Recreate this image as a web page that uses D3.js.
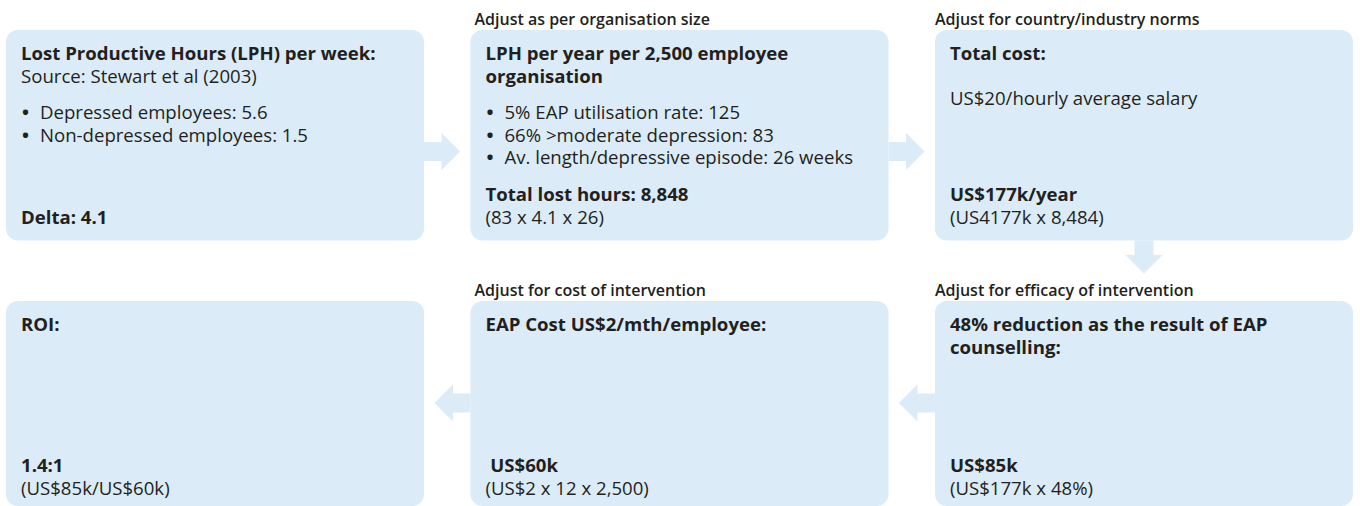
<!DOCTYPE html>
<html>
<head>
<meta charset="utf-8">
<script src="https://cdn.jsdelivr.net/npm/d3@7"></script>
<style>
  html, body { margin: 0; padding: 0; background: #ffffff; }
  svg { display: block; }
  text { white-space: pre; }
</style>
</head>
<body>
<svg id="chart" width="1360" height="506"></svg>
<script>
// ---------------- DATA ----------------
// box order: top row left->right (0,1,2), bottom row left->right (3,4,5)
const boxLabels = [
  "",
  "Adjust as per organisation size",
  "Adjust for country/industry norms",
  "",
  "Adjust for cost of intervention",
  "Adjust for efficacy of intervention"
];
const boxTitles = [
  ["Lost Productive Hours (LPH) per week:"],
  ["LPH per year per 2,500 employee", "organisation"],
  ["Total cost:"],
  ["ROI:"],
  ["EAP Cost US$2/mth/employee:"],
  ["48% reduction as the result of EAP", "counselling:"]
];
const boxSubtitles = [
  ["Source: Stewart et al (2003)"],
  [],
  ["", "US$20/hourly average salary"],
  [],
  [],
  []
];
const boxBullets = [
  ["Depressed employees: 5.6", "Non-depressed employees: 1.5"],
  ["5% EAP utilisation rate: 125", "66% >moderate depression: 83", "Av. length/depressive episode: 26 weeks"],
  [],
  [],
  [],
  []
];
const boxResults = ["Delta: 4.1", "Total lost hours: 8,848", "US$177k/year", "1.4:1", " US$60k", "US$85k"];
const boxFormulas = ["", "(83 x 4.1 x 26)", "(US4177k x 8,484)", "(US$85k/US$60k)", "(US$2 x 12 x 2,500)", "(US$177k x 48%)"];
// flow arrows between boxes (from -> to)
const flowFrom = [0, 1, 2, 5, 4];
const flowTo   = [1, 2, 5, 4, 3];

// ---------------- LAYOUT ----------------
const W = 1360, H = 506;
const fill = "#dbecf8";
const ink = "#231f20";
const font = "'Open Sans', 'Noto Sans', sans-serif";
const bodySize = 18.6, labelSize = 16;

const col = d3.scaleBand().domain([0, 1, 2]).range([6, 1353]).paddingInner(0.1).paddingOuter(0);
const rowTop = [30, 301];
const rowBottom = [240.5, 506];
const arrowCenterOffset = [121.5, 102];

const boxes = boxTitles.map((t, i) => {
  const r = i < 3 ? 0 : 1;
  const c = i < 3 ? i : i - 3;
  return {
    i, r, c,
    x: col(c), y: rowTop[r], w: col.bandwidth(), h: rowBottom[r] - rowTop[r],
    label: boxLabels[i], titles: t, subs: boxSubtitles[i], bullets: boxBullets[i],
    result: boxResults[i], formula: boxFormulas[i]
  };
});

const svg = d3.select("#chart").attr("viewBox", `0 0 ${W} ${H}`);

// arrows
const shaftHalf = 9.5, headHalf = 18.5, headLen = 18.5, arrowLen = 36;
function arrowPath(a, b) {
  let p;
  if (a.r === b.r) {
    const dir = b.c > a.c ? 1 : -1;
    const x0 = dir > 0 ? a.x + a.w : a.x;
    const cy = a.y + arrowCenterOffset[a.r];
    const tip = x0 + dir * arrowLen;
    const hb = tip - dir * headLen;
    p = [[x0, cy - shaftHalf], [hb, cy - shaftHalf], [hb, cy - headHalf], [tip, cy],
         [hb, cy + headHalf], [hb, cy + shaftHalf], [x0, cy + shaftHalf]];
  } else {
    const cx = a.x + a.w / 2;
    const y0 = a.y + a.h;
    const tip = y0 + 33;
    const hb = tip - headLen;
    p = [[cx - shaftHalf, y0], [cx - shaftHalf, hb], [cx - headHalf, hb], [cx, tip],
         [cx + headHalf, hb], [cx + shaftHalf, hb], [cx + shaftHalf, y0]];
  }
  return d3.line()(p) + "Z";
}
svg.append("g").selectAll("path")
  .data(flowFrom.map((f, k) => [boxes[f], boxes[flowTo[k]]]))
  .join("path")
  .attr("d", d => arrowPath(d[0], d[1]))
  .attr("fill", fill);

// boxes
const g = svg.append("g").selectAll("g").data(boxes).join("g");
g.append("rect")
  .attr("x", d => d.x).attr("y", d => d.y)
  .attr("width", d => d.w).attr("height", d => d.h)
  .attr("rx", 12).attr("ry", 12)
  .attr("fill", fill);

// labels above boxes
const labelOffset = [0, 4, 0];
g.filter(d => d.label).append("text")
  .attr("x", d => d.x + labelOffset[d.c])
  .attr("y", d => d.y - 5)
  .attr("font-family", font).attr("font-size", labelSize).attr("font-weight", 600)
  .attr("fill", ink)
  .text(d => d.label);

const padX = 15, lineH = 22.5;
g.each(function(d) {
  const s = d3.select(this);
  const tx = d.x + padX;
  let y = d.y + 30;
  d.titles.forEach(t => {
    s.append("text").attr("x", tx).attr("y", y)
      .attr("font-family", font).attr("font-size", bodySize).attr("font-weight", 700)
      .attr("fill", ink).attr("xml:space", "preserve").text(t);
    y += lineH;
  });
  d.subs.forEach(t => {
    s.append("text").attr("x", tx).attr("y", y)
      .attr("font-family", font).attr("font-size", bodySize).attr("font-weight", 400)
      .attr("fill", ink).attr("xml:space", "preserve").text(t);
    y += lineH;
  });
  if (d.bullets.length) {
    y = d.y + 89;
    d.bullets.forEach(t => {
      s.append("text").attr("x", d.x + 16).attr("y", y)
        .attr("font-family", font).attr("font-size", bodySize).attr("font-weight", 700)
        .attr("fill", ink).text("•");
      s.append("text").attr("x", d.x + 34).attr("y", y)
        .attr("font-family", font).attr("font-size", bodySize).attr("fill", ink).text(t);
      y += lineH;
    });
  }
  const fy = d.y + 193.5;
  const ry = d.formula ? fy - 23 : fy;
  s.append("text").attr("x", tx).attr("y", ry)
    .attr("font-family", font).attr("font-size", bodySize).attr("font-weight", 700)
    .attr("fill", ink).attr("xml:space", "preserve").text(d.result);
  if (d.formula) {
    s.append("text").attr("x", tx).attr("y", fy)
      .attr("font-family", font).attr("font-size", bodySize).attr("font-weight", 400)
      .attr("fill", ink).attr("xml:space", "preserve").text(d.formula);
  }
});
</script>
</body>
</html>
